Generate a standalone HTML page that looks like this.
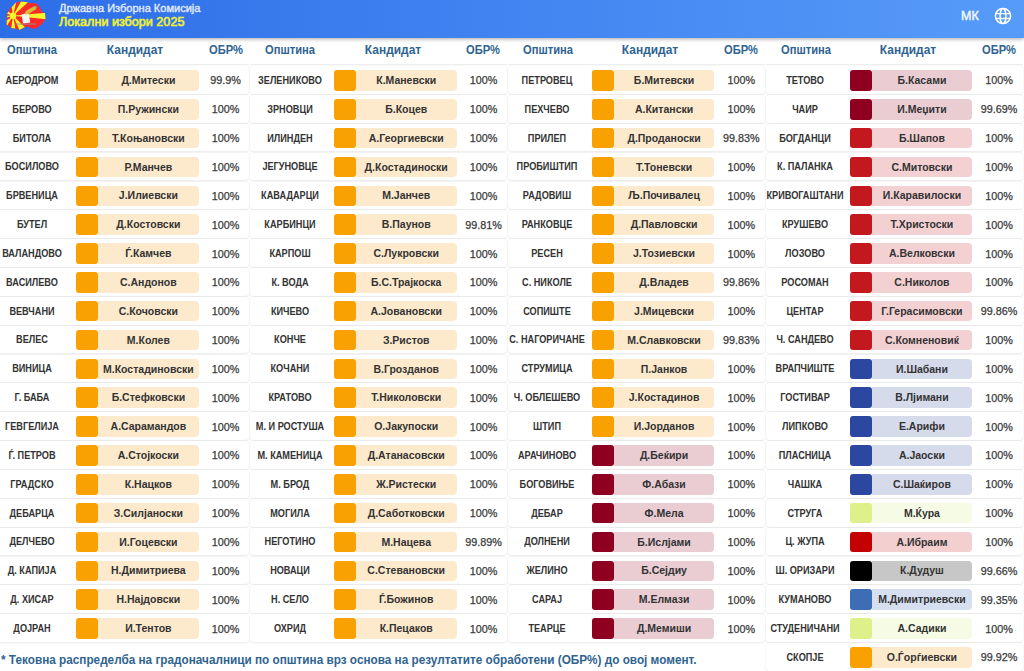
<!DOCTYPE html>
<html><head><meta charset="utf-8"><style>
*{margin:0;padding:0;box-sizing:border-box}
html,body{width:1024px;height:671px;overflow:hidden;background:#fff;font-family:"Liberation Sans",sans-serif;position:relative}
.hdr{position:absolute;left:0;top:0;width:1024px;height:38px;background:linear-gradient(90deg,#2d6de8,#579bf9);box-shadow:0 1px 4px rgba(0,0,0,.35);z-index:5}
.t1{position:absolute;-webkit-text-stroke:0.35px #e2eafb;transform:scaleX(1.06);transform-origin:0 0;left:58.5px;top:3.1px;color:#e2eafb;font-size:10.4px;font-weight:normal;white-space:nowrap}
.t2{position:absolute;-webkit-text-stroke:0.6px #eef032;transform:scaleX(1.05);transform-origin:0 0;left:58.5px;top:14.6px;color:#eef032;font-size:12.0px;font-weight:normal;white-space:nowrap}
.mk{position:absolute;left:961px;top:8.5px;color:#f4f8ff;font-size:12.5px;font-weight:normal;-webkit-text-stroke:0.45px #f4f8ff;transform:scaleX(1.0);transform-origin:0 0}
.th{position:absolute;transform:scaleX(0.93);top:41.5px;height:16px;line-height:16px;color:#2f6491;font-size:12px;font-weight:bold;white-space:nowrap;text-align:center;width:120px;margin-left:-60px}
.hl{position:absolute;top:64px;height:1px;background:#efefef}
.card{position:absolute;background:#fff;border-radius:4px;box-shadow:0 0.8px 2px rgba(0,0,0,.09)}
.mun{position:absolute;transform:scaleX(0.915);height:28px;line-height:28px;width:100px;margin-left:-50px;text-align:center;color:#333;font-size:10px;font-weight:bold;white-space:nowrap;letter-spacing:0px}
.sq{position:absolute;border-radius:3px}
.bar{position:absolute;border-radius:0 4px 4px 0}
.cand{position:absolute;transform:scaleX(1.0);height:28px;line-height:28px;text-align:center;color:#333;font-size:10.5px;font-weight:bold;white-space:nowrap}
.pct{position:absolute;-webkit-text-stroke:0.25px #3a3a3a;transform:scaleX(1.0);height:28px;line-height:28px;width:60px;margin-left:-30px;text-align:center;color:#3a3a3a;font-size:10.8px;white-space:nowrap}
.foot{position:absolute;transform:scaleX(0.98);transform-origin:0 0;left:1.2px;top:652.7px;color:#2f6491;font-size:12px;font-weight:bold;white-space:nowrap}
</style></head><body>

<div class="hdr">
<svg style="position:absolute;left:0;top:0" width="48" height="32" viewBox="0 0 48 32">
<defs><clipPath id="mp"><path d="M10.2,8.1 L8.8,11 L6.9,14.3 L7.3,17 L6.9,20 L6.6,24.8 L8.8,25.7 L10.7,28.1 L15.9,28.6 L19.3,30 L23.1,28.1 L26.9,26.2 L30.7,28.1 L34.5,29.1 L38.3,26.7 L41.7,24.3 L44,21.4 L45.5,19.1 L45,12.9 L42.1,11.9 L40.2,8.1 L37.4,4.3 L33.6,2.9 L29.7,3.3 L26.4,1.9 L19.7,1.4 L15.4,2.9 L12.6,6.2 Z"/></clipPath></defs>
<g clip-path="url(#mp)">
<rect x="0" y="0" width="48" height="32" fill="#fa2a2a"/>
<g fill="#f6f62c">
<path d="M13.06,15.74 L23.34,-28.07 L6.33,-28.75 Z"/>
<path d="M13.06,15.74 L46.50,-14.37 L34.88,-23.62 Z"/>
<path d="M13.06,15.74 L57.81,20.44 L57.89,11.82 Z"/>
<path d="M13.06,15.74 L31.36,56.85 L45.43,47.00 Z"/>
<path d="M13.06,15.74 L6.64,60.28 L21.03,60.03 Z"/>
<path d="M13.06,15.74 L-22.88,42.82 L-10.12,54.31 Z"/>
<path d="M13.06,15.74 L-31.94,15.19 L-30.04,28.67 Z"/>
<path d="M13.06,15.74 L-20.12,-14.66 L-29.61,1.46 Z"/>
</g>
<circle cx="13.06" cy="15.74" r="3.3" fill="#f6f62c"/>
</g>
<path d="M21.6,14.3 L28.8,13.8 L30.2,22.4 L23.1,23.4 Z" fill="#f4f4f6"/>
<path d="M24.3,13.6 L26.5,10.6 L30.5,8.2 L33.8,6.4 L36.4,6.9 L36.2,9.2 L32.3,11.6 L28.6,14 L25.5,14.6 Z" fill="#d9bd35"/>
<path d="M33.2,6.6 L35.6,5.9 L37,7.2 L35,8.9 Z" fill="#9cb868"/>
<rect x="15.4" y="23.6" width="20.6" height="0.9" fill="#9b8b90"/>
</svg>
<div class="t1">Државна Изборна Комисија</div><div class="t2">Локални избори 2025</div>
<div class="mk">МК</div>
<svg style="position:absolute;left:993.5px;top:6.6px" width="18" height="18" viewBox="0 0 18 18" fill="none" stroke="#fff" stroke-width="1.45">
<circle cx="9" cy="9" r="7.6"/><ellipse cx="9" cy="9" rx="2.9" ry="7.6"/><path d="M1.6,6.6 H16.4 M1.6,11.4 H16.4"/></svg>
</div>
<div class="th" style="left:32.05px;transform:scaleX(0.93)">Општина</div>
<div class="th" style="left:134.70px;transform:scaleX(0.995)">Кандидат</div>
<div class="th" style="left:225.60px;transform:scaleX(0.93)">ОБР%</div>
<div class="hl" style="left:-7.50px;width:256.50px"></div>
<div class="card" style="left:-7.50px;top:66.10px;width:256.50px;height:27.70px"></div>
<div class="mun" style="left:31.75px;top:66.80px">АЕРОДРОМ</div>
<div class="bar" style="left:98.00px;top:70.10px;width:100.75px;height:20.60px;background:#fdeacc"></div>
<div class="sq" style="left:76.00px;top:70.10px;width:22.00px;height:20.60px;background:#f9a100"></div>
<div class="cand" style="left:98.00px;top:66.00px;width:100.75px">Д.Митески</div>
<div class="pct" style="left:225.60px;top:66.40px">99.9%</div>
<div class="card" style="left:-7.50px;top:94.95px;width:256.50px;height:27.70px"></div>
<div class="mun" style="left:31.75px;top:95.65px">БЕРОВО</div>
<div class="bar" style="left:98.00px;top:98.95px;width:100.75px;height:20.60px;background:#fdeacc"></div>
<div class="sq" style="left:76.00px;top:98.95px;width:22.00px;height:20.60px;background:#f9a100"></div>
<div class="cand" style="left:98.00px;top:94.85px;width:100.75px">П.Ружински</div>
<div class="pct" style="left:225.60px;top:95.25px">100%</div>
<div class="card" style="left:-7.50px;top:123.80px;width:256.50px;height:27.70px"></div>
<div class="mun" style="left:31.75px;top:124.50px">БИТОЛА</div>
<div class="bar" style="left:98.00px;top:127.80px;width:100.75px;height:20.60px;background:#fdeacc"></div>
<div class="sq" style="left:76.00px;top:127.80px;width:22.00px;height:20.60px;background:#f9a100"></div>
<div class="cand" style="left:98.00px;top:123.70px;width:100.75px">Т.Коњановски</div>
<div class="pct" style="left:225.60px;top:124.10px">100%</div>
<div class="card" style="left:-7.50px;top:152.65px;width:256.50px;height:27.70px"></div>
<div class="mun" style="left:31.75px;top:153.35px">БОСИЛОВО</div>
<div class="bar" style="left:98.00px;top:156.65px;width:100.75px;height:20.60px;background:#fdeacc"></div>
<div class="sq" style="left:76.00px;top:156.65px;width:22.00px;height:20.60px;background:#f9a100"></div>
<div class="cand" style="left:98.00px;top:152.55px;width:100.75px">Р.Манчев</div>
<div class="pct" style="left:225.60px;top:152.95px">100%</div>
<div class="card" style="left:-7.50px;top:181.50px;width:256.50px;height:27.70px"></div>
<div class="mun" style="left:31.75px;top:182.20px">БРВЕНИЦА</div>
<div class="bar" style="left:98.00px;top:185.50px;width:100.75px;height:20.60px;background:#fdeacc"></div>
<div class="sq" style="left:76.00px;top:185.50px;width:22.00px;height:20.60px;background:#f9a100"></div>
<div class="cand" style="left:98.00px;top:181.40px;width:100.75px">Ј.Илиевски</div>
<div class="pct" style="left:225.60px;top:181.80px">100%</div>
<div class="card" style="left:-7.50px;top:210.35px;width:256.50px;height:27.70px"></div>
<div class="mun" style="left:31.75px;top:211.05px">БУТЕЛ</div>
<div class="bar" style="left:98.00px;top:214.35px;width:100.75px;height:20.60px;background:#fdeacc"></div>
<div class="sq" style="left:76.00px;top:214.35px;width:22.00px;height:20.60px;background:#f9a100"></div>
<div class="cand" style="left:98.00px;top:210.25px;width:100.75px">Д.Костовски</div>
<div class="pct" style="left:225.60px;top:210.65px">100%</div>
<div class="card" style="left:-7.50px;top:239.20px;width:256.50px;height:27.70px"></div>
<div class="mun" style="left:31.75px;top:239.90px">ВАЛАНДОВО</div>
<div class="bar" style="left:98.00px;top:243.20px;width:100.75px;height:20.60px;background:#fdeacc"></div>
<div class="sq" style="left:76.00px;top:243.20px;width:22.00px;height:20.60px;background:#f9a100"></div>
<div class="cand" style="left:98.00px;top:239.10px;width:100.75px">Ѓ.Камчев</div>
<div class="pct" style="left:225.60px;top:239.50px">100%</div>
<div class="card" style="left:-7.50px;top:268.05px;width:256.50px;height:27.70px"></div>
<div class="mun" style="left:31.75px;top:268.75px">ВАСИЛЕВО</div>
<div class="bar" style="left:98.00px;top:272.05px;width:100.75px;height:20.60px;background:#fdeacc"></div>
<div class="sq" style="left:76.00px;top:272.05px;width:22.00px;height:20.60px;background:#f9a100"></div>
<div class="cand" style="left:98.00px;top:267.95px;width:100.75px">С.Андонов</div>
<div class="pct" style="left:225.60px;top:268.35px">100%</div>
<div class="card" style="left:-7.50px;top:296.90px;width:256.50px;height:27.70px"></div>
<div class="mun" style="left:31.75px;top:297.60px">ВЕВЧАНИ</div>
<div class="bar" style="left:98.00px;top:300.90px;width:100.75px;height:20.60px;background:#fdeacc"></div>
<div class="sq" style="left:76.00px;top:300.90px;width:22.00px;height:20.60px;background:#f9a100"></div>
<div class="cand" style="left:98.00px;top:296.80px;width:100.75px">С.Кочовски</div>
<div class="pct" style="left:225.60px;top:297.20px">100%</div>
<div class="card" style="left:-7.50px;top:325.75px;width:256.50px;height:27.70px"></div>
<div class="mun" style="left:31.75px;top:326.45px">ВЕЛЕС</div>
<div class="bar" style="left:98.00px;top:329.75px;width:100.75px;height:20.60px;background:#fdeacc"></div>
<div class="sq" style="left:76.00px;top:329.75px;width:22.00px;height:20.60px;background:#f9a100"></div>
<div class="cand" style="left:98.00px;top:325.65px;width:100.75px">М.Колев</div>
<div class="pct" style="left:225.60px;top:326.05px">100%</div>
<div class="card" style="left:-7.50px;top:354.60px;width:256.50px;height:27.70px"></div>
<div class="mun" style="left:31.75px;top:355.30px">ВИНИЦА</div>
<div class="bar" style="left:98.00px;top:358.60px;width:100.75px;height:20.60px;background:#fdeacc"></div>
<div class="sq" style="left:76.00px;top:358.60px;width:22.00px;height:20.60px;background:#f9a100"></div>
<div class="cand" style="left:98.00px;top:354.50px;width:100.75px">М.Костадиновски</div>
<div class="pct" style="left:225.60px;top:354.90px">100%</div>
<div class="card" style="left:-7.50px;top:383.45px;width:256.50px;height:27.70px"></div>
<div class="mun" style="left:31.75px;top:384.15px">Г. БАБА</div>
<div class="bar" style="left:98.00px;top:387.45px;width:100.75px;height:20.60px;background:#fdeacc"></div>
<div class="sq" style="left:76.00px;top:387.45px;width:22.00px;height:20.60px;background:#f9a100"></div>
<div class="cand" style="left:98.00px;top:383.35px;width:100.75px">Б.Стефковски</div>
<div class="pct" style="left:225.60px;top:383.75px">100%</div>
<div class="card" style="left:-7.50px;top:412.30px;width:256.50px;height:27.70px"></div>
<div class="mun" style="left:31.75px;top:413.00px">ГЕВГЕЛИЈА</div>
<div class="bar" style="left:98.00px;top:416.30px;width:100.75px;height:20.60px;background:#fdeacc"></div>
<div class="sq" style="left:76.00px;top:416.30px;width:22.00px;height:20.60px;background:#f9a100"></div>
<div class="cand" style="left:98.00px;top:412.20px;width:100.75px">А.Сарамандов</div>
<div class="pct" style="left:225.60px;top:412.60px">100%</div>
<div class="card" style="left:-7.50px;top:441.15px;width:256.50px;height:27.70px"></div>
<div class="mun" style="left:31.75px;top:441.85px">Ѓ. ПЕТРОВ</div>
<div class="bar" style="left:98.00px;top:445.15px;width:100.75px;height:20.60px;background:#fdeacc"></div>
<div class="sq" style="left:76.00px;top:445.15px;width:22.00px;height:20.60px;background:#f9a100"></div>
<div class="cand" style="left:98.00px;top:441.05px;width:100.75px">А.Стојкоски</div>
<div class="pct" style="left:225.60px;top:441.45px">100%</div>
<div class="card" style="left:-7.50px;top:470.00px;width:256.50px;height:27.70px"></div>
<div class="mun" style="left:31.75px;top:470.70px">ГРАДСКО</div>
<div class="bar" style="left:98.00px;top:474.00px;width:100.75px;height:20.60px;background:#fdeacc"></div>
<div class="sq" style="left:76.00px;top:474.00px;width:22.00px;height:20.60px;background:#f9a100"></div>
<div class="cand" style="left:98.00px;top:469.90px;width:100.75px">К.Нацков</div>
<div class="pct" style="left:225.60px;top:470.30px">100%</div>
<div class="card" style="left:-7.50px;top:498.85px;width:256.50px;height:27.70px"></div>
<div class="mun" style="left:31.75px;top:499.55px">ДЕБАРЦА</div>
<div class="bar" style="left:98.00px;top:502.85px;width:100.75px;height:20.60px;background:#fdeacc"></div>
<div class="sq" style="left:76.00px;top:502.85px;width:22.00px;height:20.60px;background:#f9a100"></div>
<div class="cand" style="left:98.00px;top:498.75px;width:100.75px">З.Силјаноски</div>
<div class="pct" style="left:225.60px;top:499.15px">100%</div>
<div class="card" style="left:-7.50px;top:527.70px;width:256.50px;height:27.70px"></div>
<div class="mun" style="left:31.75px;top:528.40px">ДЕЛЧЕВО</div>
<div class="bar" style="left:98.00px;top:531.70px;width:100.75px;height:20.60px;background:#fdeacc"></div>
<div class="sq" style="left:76.00px;top:531.70px;width:22.00px;height:20.60px;background:#f9a100"></div>
<div class="cand" style="left:98.00px;top:527.60px;width:100.75px">И.Гоцевски</div>
<div class="pct" style="left:225.60px;top:528.00px">100%</div>
<div class="card" style="left:-7.50px;top:556.55px;width:256.50px;height:27.70px"></div>
<div class="mun" style="left:31.75px;top:557.25px">Д. КАПИЈА</div>
<div class="bar" style="left:98.00px;top:560.55px;width:100.75px;height:20.60px;background:#fdeacc"></div>
<div class="sq" style="left:76.00px;top:560.55px;width:22.00px;height:20.60px;background:#f9a100"></div>
<div class="cand" style="left:98.00px;top:556.45px;width:100.75px">Н.Димитриева</div>
<div class="pct" style="left:225.60px;top:556.85px">100%</div>
<div class="card" style="left:-7.50px;top:585.40px;width:256.50px;height:27.70px"></div>
<div class="mun" style="left:31.75px;top:586.10px">Д. ХИСАР</div>
<div class="bar" style="left:98.00px;top:589.40px;width:100.75px;height:20.60px;background:#fdeacc"></div>
<div class="sq" style="left:76.00px;top:589.40px;width:22.00px;height:20.60px;background:#f9a100"></div>
<div class="cand" style="left:98.00px;top:585.30px;width:100.75px">Н.Најдовски</div>
<div class="pct" style="left:225.60px;top:585.70px">100%</div>
<div class="card" style="left:-7.50px;top:614.25px;width:256.50px;height:27.70px"></div>
<div class="mun" style="left:31.75px;top:614.95px">ДОЈРАН</div>
<div class="bar" style="left:98.00px;top:618.25px;width:100.75px;height:20.60px;background:#fdeacc"></div>
<div class="sq" style="left:76.00px;top:618.25px;width:22.00px;height:20.60px;background:#f9a100"></div>
<div class="cand" style="left:98.00px;top:614.15px;width:100.75px">И.Тентов</div>
<div class="pct" style="left:225.60px;top:614.55px">100%</div>
<div class="th" style="left:289.90px;transform:scaleX(0.93)">Општина</div>
<div class="th" style="left:392.55px;transform:scaleX(0.995)">Кандидат</div>
<div class="th" style="left:483.45px;transform:scaleX(0.93)">ОБР%</div>
<div class="hl" style="left:250.35px;width:256.50px"></div>
<div class="card" style="left:250.35px;top:66.10px;width:256.50px;height:27.70px"></div>
<div class="mun" style="left:289.60px;top:66.80px">ЗЕЛЕНИКОВО</div>
<div class="bar" style="left:355.85px;top:70.10px;width:100.75px;height:20.60px;background:#fdeacc"></div>
<div class="sq" style="left:333.85px;top:70.10px;width:22.00px;height:20.60px;background:#f9a100"></div>
<div class="cand" style="left:355.85px;top:66.00px;width:100.75px">К.Маневски</div>
<div class="pct" style="left:483.45px;top:66.40px">100%</div>
<div class="card" style="left:250.35px;top:94.95px;width:256.50px;height:27.70px"></div>
<div class="mun" style="left:289.60px;top:95.65px">ЗРНОВЦИ</div>
<div class="bar" style="left:355.85px;top:98.95px;width:100.75px;height:20.60px;background:#fdeacc"></div>
<div class="sq" style="left:333.85px;top:98.95px;width:22.00px;height:20.60px;background:#f9a100"></div>
<div class="cand" style="left:355.85px;top:94.85px;width:100.75px">Б.Коцев</div>
<div class="pct" style="left:483.45px;top:95.25px">100%</div>
<div class="card" style="left:250.35px;top:123.80px;width:256.50px;height:27.70px"></div>
<div class="mun" style="left:289.60px;top:124.50px">ИЛИНДЕН</div>
<div class="bar" style="left:355.85px;top:127.80px;width:100.75px;height:20.60px;background:#fdeacc"></div>
<div class="sq" style="left:333.85px;top:127.80px;width:22.00px;height:20.60px;background:#f9a100"></div>
<div class="cand" style="left:355.85px;top:123.70px;width:100.75px">А.Георгиевски</div>
<div class="pct" style="left:483.45px;top:124.10px">100%</div>
<div class="card" style="left:250.35px;top:152.65px;width:256.50px;height:27.70px"></div>
<div class="mun" style="left:289.60px;top:153.35px">ЈЕГУНОВЦЕ</div>
<div class="bar" style="left:355.85px;top:156.65px;width:100.75px;height:20.60px;background:#fdeacc"></div>
<div class="sq" style="left:333.85px;top:156.65px;width:22.00px;height:20.60px;background:#f9a100"></div>
<div class="cand" style="left:355.85px;top:152.55px;width:100.75px">Д.Костадиноски</div>
<div class="pct" style="left:483.45px;top:152.95px">100%</div>
<div class="card" style="left:250.35px;top:181.50px;width:256.50px;height:27.70px"></div>
<div class="mun" style="left:289.60px;top:182.20px">КАВАДАРЦИ</div>
<div class="bar" style="left:355.85px;top:185.50px;width:100.75px;height:20.60px;background:#fdeacc"></div>
<div class="sq" style="left:333.85px;top:185.50px;width:22.00px;height:20.60px;background:#f9a100"></div>
<div class="cand" style="left:355.85px;top:181.40px;width:100.75px">М.Јанчев</div>
<div class="pct" style="left:483.45px;top:181.80px">100%</div>
<div class="card" style="left:250.35px;top:210.35px;width:256.50px;height:27.70px"></div>
<div class="mun" style="left:289.60px;top:211.05px">КАРБИНЦИ</div>
<div class="bar" style="left:355.85px;top:214.35px;width:100.75px;height:20.60px;background:#fdeacc"></div>
<div class="sq" style="left:333.85px;top:214.35px;width:22.00px;height:20.60px;background:#f9a100"></div>
<div class="cand" style="left:355.85px;top:210.25px;width:100.75px">В.Паунов</div>
<div class="pct" style="left:483.45px;top:210.65px">99.81%</div>
<div class="card" style="left:250.35px;top:239.20px;width:256.50px;height:27.70px"></div>
<div class="mun" style="left:289.60px;top:239.90px">КАРПОШ</div>
<div class="bar" style="left:355.85px;top:243.20px;width:100.75px;height:20.60px;background:#fdeacc"></div>
<div class="sq" style="left:333.85px;top:243.20px;width:22.00px;height:20.60px;background:#f9a100"></div>
<div class="cand" style="left:355.85px;top:239.10px;width:100.75px">С.Лукровски</div>
<div class="pct" style="left:483.45px;top:239.50px">100%</div>
<div class="card" style="left:250.35px;top:268.05px;width:256.50px;height:27.70px"></div>
<div class="mun" style="left:289.60px;top:268.75px">К. ВОДА</div>
<div class="bar" style="left:355.85px;top:272.05px;width:100.75px;height:20.60px;background:#fdeacc"></div>
<div class="sq" style="left:333.85px;top:272.05px;width:22.00px;height:20.60px;background:#f9a100"></div>
<div class="cand" style="left:355.85px;top:267.95px;width:100.75px">Б.С.Трајкоска</div>
<div class="pct" style="left:483.45px;top:268.35px">100%</div>
<div class="card" style="left:250.35px;top:296.90px;width:256.50px;height:27.70px"></div>
<div class="mun" style="left:289.60px;top:297.60px">КИЧЕВО</div>
<div class="bar" style="left:355.85px;top:300.90px;width:100.75px;height:20.60px;background:#fdeacc"></div>
<div class="sq" style="left:333.85px;top:300.90px;width:22.00px;height:20.60px;background:#f9a100"></div>
<div class="cand" style="left:355.85px;top:296.80px;width:100.75px">А.Јовановски</div>
<div class="pct" style="left:483.45px;top:297.20px">100%</div>
<div class="card" style="left:250.35px;top:325.75px;width:256.50px;height:27.70px"></div>
<div class="mun" style="left:289.60px;top:326.45px">КОНЧЕ</div>
<div class="bar" style="left:355.85px;top:329.75px;width:100.75px;height:20.60px;background:#fdeacc"></div>
<div class="sq" style="left:333.85px;top:329.75px;width:22.00px;height:20.60px;background:#f9a100"></div>
<div class="cand" style="left:355.85px;top:325.65px;width:100.75px">З.Ристов</div>
<div class="pct" style="left:483.45px;top:326.05px">100%</div>
<div class="card" style="left:250.35px;top:354.60px;width:256.50px;height:27.70px"></div>
<div class="mun" style="left:289.60px;top:355.30px">КОЧАНИ</div>
<div class="bar" style="left:355.85px;top:358.60px;width:100.75px;height:20.60px;background:#fdeacc"></div>
<div class="sq" style="left:333.85px;top:358.60px;width:22.00px;height:20.60px;background:#f9a100"></div>
<div class="cand" style="left:355.85px;top:354.50px;width:100.75px">В.Грозданов</div>
<div class="pct" style="left:483.45px;top:354.90px">100%</div>
<div class="card" style="left:250.35px;top:383.45px;width:256.50px;height:27.70px"></div>
<div class="mun" style="left:289.60px;top:384.15px">КРАТОВО</div>
<div class="bar" style="left:355.85px;top:387.45px;width:100.75px;height:20.60px;background:#fdeacc"></div>
<div class="sq" style="left:333.85px;top:387.45px;width:22.00px;height:20.60px;background:#f9a100"></div>
<div class="cand" style="left:355.85px;top:383.35px;width:100.75px">Т.Николовски</div>
<div class="pct" style="left:483.45px;top:383.75px">100%</div>
<div class="card" style="left:250.35px;top:412.30px;width:256.50px;height:27.70px"></div>
<div class="mun" style="left:289.60px;top:413.00px">М. И РОСТУША</div>
<div class="bar" style="left:355.85px;top:416.30px;width:100.75px;height:20.60px;background:#fdeacc"></div>
<div class="sq" style="left:333.85px;top:416.30px;width:22.00px;height:20.60px;background:#f9a100"></div>
<div class="cand" style="left:355.85px;top:412.20px;width:100.75px">О.Јакупоски</div>
<div class="pct" style="left:483.45px;top:412.60px">100%</div>
<div class="card" style="left:250.35px;top:441.15px;width:256.50px;height:27.70px"></div>
<div class="mun" style="left:289.60px;top:441.85px">М. КАМЕНИЦА</div>
<div class="bar" style="left:355.85px;top:445.15px;width:100.75px;height:20.60px;background:#fdeacc"></div>
<div class="sq" style="left:333.85px;top:445.15px;width:22.00px;height:20.60px;background:#f9a100"></div>
<div class="cand" style="left:355.85px;top:441.05px;width:100.75px">Д.Атанасовски</div>
<div class="pct" style="left:483.45px;top:441.45px">100%</div>
<div class="card" style="left:250.35px;top:470.00px;width:256.50px;height:27.70px"></div>
<div class="mun" style="left:289.60px;top:470.70px">М. БРОД</div>
<div class="bar" style="left:355.85px;top:474.00px;width:100.75px;height:20.60px;background:#fdeacc"></div>
<div class="sq" style="left:333.85px;top:474.00px;width:22.00px;height:20.60px;background:#f9a100"></div>
<div class="cand" style="left:355.85px;top:469.90px;width:100.75px">Ж.Ристески</div>
<div class="pct" style="left:483.45px;top:470.30px">100%</div>
<div class="card" style="left:250.35px;top:498.85px;width:256.50px;height:27.70px"></div>
<div class="mun" style="left:289.60px;top:499.55px">МОГИЛА</div>
<div class="bar" style="left:355.85px;top:502.85px;width:100.75px;height:20.60px;background:#fdeacc"></div>
<div class="sq" style="left:333.85px;top:502.85px;width:22.00px;height:20.60px;background:#f9a100"></div>
<div class="cand" style="left:355.85px;top:498.75px;width:100.75px">Д.Саботковски</div>
<div class="pct" style="left:483.45px;top:499.15px">100%</div>
<div class="card" style="left:250.35px;top:527.70px;width:256.50px;height:27.70px"></div>
<div class="mun" style="left:289.60px;top:528.40px">НЕГОТИНО</div>
<div class="bar" style="left:355.85px;top:531.70px;width:100.75px;height:20.60px;background:#fdeacc"></div>
<div class="sq" style="left:333.85px;top:531.70px;width:22.00px;height:20.60px;background:#f9a100"></div>
<div class="cand" style="left:355.85px;top:527.60px;width:100.75px">М.Нацева</div>
<div class="pct" style="left:483.45px;top:528.00px">99.89%</div>
<div class="card" style="left:250.35px;top:556.55px;width:256.50px;height:27.70px"></div>
<div class="mun" style="left:289.60px;top:557.25px">НОВАЦИ</div>
<div class="bar" style="left:355.85px;top:560.55px;width:100.75px;height:20.60px;background:#fdeacc"></div>
<div class="sq" style="left:333.85px;top:560.55px;width:22.00px;height:20.60px;background:#f9a100"></div>
<div class="cand" style="left:355.85px;top:556.45px;width:100.75px">С.Стевановски</div>
<div class="pct" style="left:483.45px;top:556.85px">100%</div>
<div class="card" style="left:250.35px;top:585.40px;width:256.50px;height:27.70px"></div>
<div class="mun" style="left:289.60px;top:586.10px">Н. СЕЛО</div>
<div class="bar" style="left:355.85px;top:589.40px;width:100.75px;height:20.60px;background:#fdeacc"></div>
<div class="sq" style="left:333.85px;top:589.40px;width:22.00px;height:20.60px;background:#f9a100"></div>
<div class="cand" style="left:355.85px;top:585.30px;width:100.75px">Ѓ.Божинов</div>
<div class="pct" style="left:483.45px;top:585.70px">100%</div>
<div class="card" style="left:250.35px;top:614.25px;width:256.50px;height:27.70px"></div>
<div class="mun" style="left:289.60px;top:614.95px">ОХРИД</div>
<div class="bar" style="left:355.85px;top:618.25px;width:100.75px;height:20.60px;background:#fdeacc"></div>
<div class="sq" style="left:333.85px;top:618.25px;width:22.00px;height:20.60px;background:#f9a100"></div>
<div class="cand" style="left:355.85px;top:614.15px;width:100.75px">К.Пецаков</div>
<div class="pct" style="left:483.45px;top:614.55px">100%</div>
<div class="th" style="left:547.75px;transform:scaleX(0.93)">Општина</div>
<div class="th" style="left:650.40px;transform:scaleX(0.995)">Кандидат</div>
<div class="th" style="left:741.30px;transform:scaleX(0.93)">ОБР%</div>
<div class="hl" style="left:508.20px;width:256.50px"></div>
<div class="card" style="left:508.20px;top:66.10px;width:256.50px;height:27.70px"></div>
<div class="mun" style="left:547.45px;top:66.80px">ПЕТРОВЕЦ</div>
<div class="bar" style="left:613.70px;top:70.10px;width:100.75px;height:20.60px;background:#fdeacc"></div>
<div class="sq" style="left:591.70px;top:70.10px;width:22.00px;height:20.60px;background:#f9a100"></div>
<div class="cand" style="left:613.70px;top:66.00px;width:100.75px">Б.Митевски</div>
<div class="pct" style="left:741.30px;top:66.40px">100%</div>
<div class="card" style="left:508.20px;top:94.95px;width:256.50px;height:27.70px"></div>
<div class="mun" style="left:547.45px;top:95.65px">ПЕХЧЕВО</div>
<div class="bar" style="left:613.70px;top:98.95px;width:100.75px;height:20.60px;background:#fdeacc"></div>
<div class="sq" style="left:591.70px;top:98.95px;width:22.00px;height:20.60px;background:#f9a100"></div>
<div class="cand" style="left:613.70px;top:94.85px;width:100.75px">А.Китански</div>
<div class="pct" style="left:741.30px;top:95.25px">100%</div>
<div class="card" style="left:508.20px;top:123.80px;width:256.50px;height:27.70px"></div>
<div class="mun" style="left:547.45px;top:124.50px">ПРИЛЕП</div>
<div class="bar" style="left:613.70px;top:127.80px;width:100.75px;height:20.60px;background:#fdeacc"></div>
<div class="sq" style="left:591.70px;top:127.80px;width:22.00px;height:20.60px;background:#f9a100"></div>
<div class="cand" style="left:613.70px;top:123.70px;width:100.75px">Д.Проданоски</div>
<div class="pct" style="left:741.30px;top:124.10px">99.83%</div>
<div class="card" style="left:508.20px;top:152.65px;width:256.50px;height:27.70px"></div>
<div class="mun" style="left:547.45px;top:153.35px">ПРОБИШТИП</div>
<div class="bar" style="left:613.70px;top:156.65px;width:100.75px;height:20.60px;background:#fdeacc"></div>
<div class="sq" style="left:591.70px;top:156.65px;width:22.00px;height:20.60px;background:#f9a100"></div>
<div class="cand" style="left:613.70px;top:152.55px;width:100.75px">Т.Тоневски</div>
<div class="pct" style="left:741.30px;top:152.95px">100%</div>
<div class="card" style="left:508.20px;top:181.50px;width:256.50px;height:27.70px"></div>
<div class="mun" style="left:547.45px;top:182.20px">РАДОВИШ</div>
<div class="bar" style="left:613.70px;top:185.50px;width:100.75px;height:20.60px;background:#fdeacc"></div>
<div class="sq" style="left:591.70px;top:185.50px;width:22.00px;height:20.60px;background:#f9a100"></div>
<div class="cand" style="left:613.70px;top:181.40px;width:100.75px">Љ.Почивалец</div>
<div class="pct" style="left:741.30px;top:181.80px">100%</div>
<div class="card" style="left:508.20px;top:210.35px;width:256.50px;height:27.70px"></div>
<div class="mun" style="left:547.45px;top:211.05px">РАНКОВЦЕ</div>
<div class="bar" style="left:613.70px;top:214.35px;width:100.75px;height:20.60px;background:#fdeacc"></div>
<div class="sq" style="left:591.70px;top:214.35px;width:22.00px;height:20.60px;background:#f9a100"></div>
<div class="cand" style="left:613.70px;top:210.25px;width:100.75px">Д.Павловски</div>
<div class="pct" style="left:741.30px;top:210.65px">100%</div>
<div class="card" style="left:508.20px;top:239.20px;width:256.50px;height:27.70px"></div>
<div class="mun" style="left:547.45px;top:239.90px">РЕСЕН</div>
<div class="bar" style="left:613.70px;top:243.20px;width:100.75px;height:20.60px;background:#fdeacc"></div>
<div class="sq" style="left:591.70px;top:243.20px;width:22.00px;height:20.60px;background:#f9a100"></div>
<div class="cand" style="left:613.70px;top:239.10px;width:100.75px">Ј.Тозиевски</div>
<div class="pct" style="left:741.30px;top:239.50px">100%</div>
<div class="card" style="left:508.20px;top:268.05px;width:256.50px;height:27.70px"></div>
<div class="mun" style="left:547.45px;top:268.75px">С. НИКОЛЕ</div>
<div class="bar" style="left:613.70px;top:272.05px;width:100.75px;height:20.60px;background:#fdeacc"></div>
<div class="sq" style="left:591.70px;top:272.05px;width:22.00px;height:20.60px;background:#f9a100"></div>
<div class="cand" style="left:613.70px;top:267.95px;width:100.75px">Д.Владев</div>
<div class="pct" style="left:741.30px;top:268.35px">99.86%</div>
<div class="card" style="left:508.20px;top:296.90px;width:256.50px;height:27.70px"></div>
<div class="mun" style="left:547.45px;top:297.60px">СОПИШТЕ</div>
<div class="bar" style="left:613.70px;top:300.90px;width:100.75px;height:20.60px;background:#fdeacc"></div>
<div class="sq" style="left:591.70px;top:300.90px;width:22.00px;height:20.60px;background:#f9a100"></div>
<div class="cand" style="left:613.70px;top:296.80px;width:100.75px">Ј.Мицевски</div>
<div class="pct" style="left:741.30px;top:297.20px">100%</div>
<div class="card" style="left:508.20px;top:325.75px;width:256.50px;height:27.70px"></div>
<div class="mun" style="left:547.45px;top:326.45px">С. НАГОРИЧАНЕ</div>
<div class="bar" style="left:613.70px;top:329.75px;width:100.75px;height:20.60px;background:#fdeacc"></div>
<div class="sq" style="left:591.70px;top:329.75px;width:22.00px;height:20.60px;background:#f9a100"></div>
<div class="cand" style="left:613.70px;top:325.65px;width:100.75px">М.Славковски</div>
<div class="pct" style="left:741.30px;top:326.05px">99.83%</div>
<div class="card" style="left:508.20px;top:354.60px;width:256.50px;height:27.70px"></div>
<div class="mun" style="left:547.45px;top:355.30px">СТРУМИЦА</div>
<div class="bar" style="left:613.70px;top:358.60px;width:100.75px;height:20.60px;background:#fdeacc"></div>
<div class="sq" style="left:591.70px;top:358.60px;width:22.00px;height:20.60px;background:#f9a100"></div>
<div class="cand" style="left:613.70px;top:354.50px;width:100.75px">П.Јанков</div>
<div class="pct" style="left:741.30px;top:354.90px">100%</div>
<div class="card" style="left:508.20px;top:383.45px;width:256.50px;height:27.70px"></div>
<div class="mun" style="left:547.45px;top:384.15px">Ч. ОБЛЕШЕВО</div>
<div class="bar" style="left:613.70px;top:387.45px;width:100.75px;height:20.60px;background:#fdeacc"></div>
<div class="sq" style="left:591.70px;top:387.45px;width:22.00px;height:20.60px;background:#f9a100"></div>
<div class="cand" style="left:613.70px;top:383.35px;width:100.75px">Ј.Костадинов</div>
<div class="pct" style="left:741.30px;top:383.75px">100%</div>
<div class="card" style="left:508.20px;top:412.30px;width:256.50px;height:27.70px"></div>
<div class="mun" style="left:547.45px;top:413.00px">ШТИП</div>
<div class="bar" style="left:613.70px;top:416.30px;width:100.75px;height:20.60px;background:#fdeacc"></div>
<div class="sq" style="left:591.70px;top:416.30px;width:22.00px;height:20.60px;background:#f9a100"></div>
<div class="cand" style="left:613.70px;top:412.20px;width:100.75px">И.Јорданов</div>
<div class="pct" style="left:741.30px;top:412.60px">100%</div>
<div class="card" style="left:508.20px;top:441.15px;width:256.50px;height:27.70px"></div>
<div class="mun" style="left:547.45px;top:441.85px">АРАЧИНОВО</div>
<div class="bar" style="left:613.70px;top:445.15px;width:100.75px;height:20.60px;background:#e9cdd3"></div>
<div class="sq" style="left:591.70px;top:445.15px;width:22.00px;height:20.60px;background:#8f0020"></div>
<div class="cand" style="left:613.70px;top:441.05px;width:100.75px">Д.Беќири</div>
<div class="pct" style="left:741.30px;top:441.45px">100%</div>
<div class="card" style="left:508.20px;top:470.00px;width:256.50px;height:27.70px"></div>
<div class="mun" style="left:547.45px;top:470.70px">БОГОВИЊЕ</div>
<div class="bar" style="left:613.70px;top:474.00px;width:100.75px;height:20.60px;background:#e9cdd3"></div>
<div class="sq" style="left:591.70px;top:474.00px;width:22.00px;height:20.60px;background:#8f0020"></div>
<div class="cand" style="left:613.70px;top:469.90px;width:100.75px">Ф.Абази</div>
<div class="pct" style="left:741.30px;top:470.30px">100%</div>
<div class="card" style="left:508.20px;top:498.85px;width:256.50px;height:27.70px"></div>
<div class="mun" style="left:547.45px;top:499.55px">ДЕБАР</div>
<div class="bar" style="left:613.70px;top:502.85px;width:100.75px;height:20.60px;background:#e9cdd3"></div>
<div class="sq" style="left:591.70px;top:502.85px;width:22.00px;height:20.60px;background:#8f0020"></div>
<div class="cand" style="left:613.70px;top:498.75px;width:100.75px">Ф.Мела</div>
<div class="pct" style="left:741.30px;top:499.15px">100%</div>
<div class="card" style="left:508.20px;top:527.70px;width:256.50px;height:27.70px"></div>
<div class="mun" style="left:547.45px;top:528.40px">ДОЛНЕНИ</div>
<div class="bar" style="left:613.70px;top:531.70px;width:100.75px;height:20.60px;background:#e9cdd3"></div>
<div class="sq" style="left:591.70px;top:531.70px;width:22.00px;height:20.60px;background:#8f0020"></div>
<div class="cand" style="left:613.70px;top:527.60px;width:100.75px">Б.Ислјами</div>
<div class="pct" style="left:741.30px;top:528.00px">100%</div>
<div class="card" style="left:508.20px;top:556.55px;width:256.50px;height:27.70px"></div>
<div class="mun" style="left:547.45px;top:557.25px">ЖЕЛИНО</div>
<div class="bar" style="left:613.70px;top:560.55px;width:100.75px;height:20.60px;background:#e9cdd3"></div>
<div class="sq" style="left:591.70px;top:560.55px;width:22.00px;height:20.60px;background:#8f0020"></div>
<div class="cand" style="left:613.70px;top:556.45px;width:100.75px">Б.Сејдиу</div>
<div class="pct" style="left:741.30px;top:556.85px">100%</div>
<div class="card" style="left:508.20px;top:585.40px;width:256.50px;height:27.70px"></div>
<div class="mun" style="left:547.45px;top:586.10px">САРАЈ</div>
<div class="bar" style="left:613.70px;top:589.40px;width:100.75px;height:20.60px;background:#e9cdd3"></div>
<div class="sq" style="left:591.70px;top:589.40px;width:22.00px;height:20.60px;background:#8f0020"></div>
<div class="cand" style="left:613.70px;top:585.30px;width:100.75px">М.Елмази</div>
<div class="pct" style="left:741.30px;top:585.70px">100%</div>
<div class="card" style="left:508.20px;top:614.25px;width:256.50px;height:27.70px"></div>
<div class="mun" style="left:547.45px;top:614.95px">ТЕАРЦЕ</div>
<div class="bar" style="left:613.70px;top:618.25px;width:100.75px;height:20.60px;background:#e9cdd3"></div>
<div class="sq" style="left:591.70px;top:618.25px;width:22.00px;height:20.60px;background:#8f0020"></div>
<div class="cand" style="left:613.70px;top:614.15px;width:100.75px">Д.Мемиши</div>
<div class="pct" style="left:741.30px;top:614.55px">100%</div>
<div class="th" style="left:805.60px;transform:scaleX(0.93)">Општина</div>
<div class="th" style="left:908.25px;transform:scaleX(0.995)">Кандидат</div>
<div class="th" style="left:999.15px;transform:scaleX(0.93)">ОБР%</div>
<div class="hl" style="left:766.05px;width:256.50px"></div>
<div class="card" style="left:766.05px;top:66.10px;width:256.50px;height:27.70px"></div>
<div class="mun" style="left:805.30px;top:66.80px">ТЕТОВО</div>
<div class="bar" style="left:871.55px;top:70.10px;width:100.75px;height:20.60px;background:#e9cdd3"></div>
<div class="sq" style="left:849.55px;top:70.10px;width:22.00px;height:20.60px;background:#8f0020"></div>
<div class="cand" style="left:871.55px;top:66.00px;width:100.75px">Б.Касами</div>
<div class="pct" style="left:999.15px;top:66.40px">100%</div>
<div class="card" style="left:766.05px;top:94.95px;width:256.50px;height:27.70px"></div>
<div class="mun" style="left:805.30px;top:95.65px">ЧАИР</div>
<div class="bar" style="left:871.55px;top:98.95px;width:100.75px;height:20.60px;background:#e9cdd3"></div>
<div class="sq" style="left:849.55px;top:98.95px;width:22.00px;height:20.60px;background:#8f0020"></div>
<div class="cand" style="left:871.55px;top:94.85px;width:100.75px">И.Меџити</div>
<div class="pct" style="left:999.15px;top:95.25px">99.69%</div>
<div class="card" style="left:766.05px;top:123.80px;width:256.50px;height:27.70px"></div>
<div class="mun" style="left:805.30px;top:124.50px">БОГДАНЦИ</div>
<div class="bar" style="left:871.55px;top:127.80px;width:100.75px;height:20.60px;background:#f3d1d3"></div>
<div class="sq" style="left:849.55px;top:127.80px;width:22.00px;height:20.60px;background:#c3191e"></div>
<div class="cand" style="left:871.55px;top:123.70px;width:100.75px">Б.Шапов</div>
<div class="pct" style="left:999.15px;top:124.10px">100%</div>
<div class="card" style="left:766.05px;top:152.65px;width:256.50px;height:27.70px"></div>
<div class="mun" style="left:805.30px;top:153.35px">К. ПАЛАНКА</div>
<div class="bar" style="left:871.55px;top:156.65px;width:100.75px;height:20.60px;background:#f3d1d3"></div>
<div class="sq" style="left:849.55px;top:156.65px;width:22.00px;height:20.60px;background:#c3191e"></div>
<div class="cand" style="left:871.55px;top:152.55px;width:100.75px">С.Митовски</div>
<div class="pct" style="left:999.15px;top:152.95px">100%</div>
<div class="card" style="left:766.05px;top:181.50px;width:256.50px;height:27.70px"></div>
<div class="mun" style="left:805.30px;top:182.20px">КРИВОГАШТАНИ</div>
<div class="bar" style="left:871.55px;top:185.50px;width:100.75px;height:20.60px;background:#f3d1d3"></div>
<div class="sq" style="left:849.55px;top:185.50px;width:22.00px;height:20.60px;background:#c3191e"></div>
<div class="cand" style="left:871.55px;top:181.40px;width:100.75px">И.Каравилоски</div>
<div class="pct" style="left:999.15px;top:181.80px">100%</div>
<div class="card" style="left:766.05px;top:210.35px;width:256.50px;height:27.70px"></div>
<div class="mun" style="left:805.30px;top:211.05px">КРУШЕВО</div>
<div class="bar" style="left:871.55px;top:214.35px;width:100.75px;height:20.60px;background:#f3d1d3"></div>
<div class="sq" style="left:849.55px;top:214.35px;width:22.00px;height:20.60px;background:#c3191e"></div>
<div class="cand" style="left:871.55px;top:210.25px;width:100.75px">Т.Христоски</div>
<div class="pct" style="left:999.15px;top:210.65px">100%</div>
<div class="card" style="left:766.05px;top:239.20px;width:256.50px;height:27.70px"></div>
<div class="mun" style="left:805.30px;top:239.90px">ЛОЗОВО</div>
<div class="bar" style="left:871.55px;top:243.20px;width:100.75px;height:20.60px;background:#f3d1d3"></div>
<div class="sq" style="left:849.55px;top:243.20px;width:22.00px;height:20.60px;background:#c3191e"></div>
<div class="cand" style="left:871.55px;top:239.10px;width:100.75px">А.Велковски</div>
<div class="pct" style="left:999.15px;top:239.50px">100%</div>
<div class="card" style="left:766.05px;top:268.05px;width:256.50px;height:27.70px"></div>
<div class="mun" style="left:805.30px;top:268.75px">РОСОМАН</div>
<div class="bar" style="left:871.55px;top:272.05px;width:100.75px;height:20.60px;background:#f3d1d3"></div>
<div class="sq" style="left:849.55px;top:272.05px;width:22.00px;height:20.60px;background:#c3191e"></div>
<div class="cand" style="left:871.55px;top:267.95px;width:100.75px">С.Николов</div>
<div class="pct" style="left:999.15px;top:268.35px">100%</div>
<div class="card" style="left:766.05px;top:296.90px;width:256.50px;height:27.70px"></div>
<div class="mun" style="left:805.30px;top:297.60px">ЦЕНТАР</div>
<div class="bar" style="left:871.55px;top:300.90px;width:100.75px;height:20.60px;background:#f3d1d3"></div>
<div class="sq" style="left:849.55px;top:300.90px;width:22.00px;height:20.60px;background:#c3191e"></div>
<div class="cand" style="left:871.55px;top:296.80px;width:100.75px">Г.Герасимовски</div>
<div class="pct" style="left:999.15px;top:297.20px">99.86%</div>
<div class="card" style="left:766.05px;top:325.75px;width:256.50px;height:27.70px"></div>
<div class="mun" style="left:805.30px;top:326.45px">Ч. САНДЕВО</div>
<div class="bar" style="left:871.55px;top:329.75px;width:100.75px;height:20.60px;background:#f3d1d3"></div>
<div class="sq" style="left:849.55px;top:329.75px;width:22.00px;height:20.60px;background:#c3191e"></div>
<div class="cand" style="left:871.55px;top:325.65px;width:100.75px">С.Комненовиќ</div>
<div class="pct" style="left:999.15px;top:326.05px">100%</div>
<div class="card" style="left:766.05px;top:354.60px;width:256.50px;height:27.70px"></div>
<div class="mun" style="left:805.30px;top:355.30px">ВРАПЧИШТЕ</div>
<div class="bar" style="left:871.55px;top:358.60px;width:100.75px;height:20.60px;background:#d6dbec"></div>
<div class="sq" style="left:849.55px;top:358.60px;width:22.00px;height:20.60px;background:#2b479f"></div>
<div class="cand" style="left:871.55px;top:354.50px;width:100.75px">И.Шабани</div>
<div class="pct" style="left:999.15px;top:354.90px">100%</div>
<div class="card" style="left:766.05px;top:383.45px;width:256.50px;height:27.70px"></div>
<div class="mun" style="left:805.30px;top:384.15px">ГОСТИВАР</div>
<div class="bar" style="left:871.55px;top:387.45px;width:100.75px;height:20.60px;background:#d6dbec"></div>
<div class="sq" style="left:849.55px;top:387.45px;width:22.00px;height:20.60px;background:#2b479f"></div>
<div class="cand" style="left:871.55px;top:383.35px;width:100.75px">В.Лјимани</div>
<div class="pct" style="left:999.15px;top:383.75px">100%</div>
<div class="card" style="left:766.05px;top:412.30px;width:256.50px;height:27.70px"></div>
<div class="mun" style="left:805.30px;top:413.00px">ЛИПКОВО</div>
<div class="bar" style="left:871.55px;top:416.30px;width:100.75px;height:20.60px;background:#d6dbec"></div>
<div class="sq" style="left:849.55px;top:416.30px;width:22.00px;height:20.60px;background:#2b479f"></div>
<div class="cand" style="left:871.55px;top:412.20px;width:100.75px">Е.Арифи</div>
<div class="pct" style="left:999.15px;top:412.60px">100%</div>
<div class="card" style="left:766.05px;top:441.15px;width:256.50px;height:27.70px"></div>
<div class="mun" style="left:805.30px;top:441.85px">ПЛАСНИЦА</div>
<div class="bar" style="left:871.55px;top:445.15px;width:100.75px;height:20.60px;background:#d6dbec"></div>
<div class="sq" style="left:849.55px;top:445.15px;width:22.00px;height:20.60px;background:#2b479f"></div>
<div class="cand" style="left:871.55px;top:441.05px;width:100.75px">А.Јаоски</div>
<div class="pct" style="left:999.15px;top:441.45px">100%</div>
<div class="card" style="left:766.05px;top:470.00px;width:256.50px;height:27.70px"></div>
<div class="mun" style="left:805.30px;top:470.70px">ЧАШКА</div>
<div class="bar" style="left:871.55px;top:474.00px;width:100.75px;height:20.60px;background:#d6dbec"></div>
<div class="sq" style="left:849.55px;top:474.00px;width:22.00px;height:20.60px;background:#2b479f"></div>
<div class="cand" style="left:871.55px;top:469.90px;width:100.75px">С.Шаќиров</div>
<div class="pct" style="left:999.15px;top:470.30px">100%</div>
<div class="card" style="left:766.05px;top:498.85px;width:256.50px;height:27.70px"></div>
<div class="mun" style="left:805.30px;top:499.55px">СТРУГА</div>
<div class="bar" style="left:871.55px;top:502.85px;width:100.75px;height:20.60px;background:#f6fbe6"></div>
<div class="sq" style="left:849.55px;top:502.85px;width:22.00px;height:20.60px;background:#ddf08a"></div>
<div class="cand" style="left:871.55px;top:498.75px;width:100.75px">М.Ќура</div>
<div class="pct" style="left:999.15px;top:499.15px">100%</div>
<div class="card" style="left:766.05px;top:527.70px;width:256.50px;height:27.70px"></div>
<div class="mun" style="left:805.30px;top:528.40px">Ц. ЖУПА</div>
<div class="bar" style="left:871.55px;top:531.70px;width:100.75px;height:20.60px;background:#f3cfd0"></div>
<div class="sq" style="left:849.55px;top:531.70px;width:22.00px;height:20.60px;background:#c40000"></div>
<div class="cand" style="left:871.55px;top:527.60px;width:100.75px">А.Ибраим</div>
<div class="pct" style="left:999.15px;top:528.00px">100%</div>
<div class="card" style="left:766.05px;top:556.55px;width:256.50px;height:27.70px"></div>
<div class="mun" style="left:805.30px;top:557.25px">Ш. ОРИЗАРИ</div>
<div class="bar" style="left:871.55px;top:560.55px;width:100.75px;height:20.60px;background:#c7c7c7"></div>
<div class="sq" style="left:849.55px;top:560.55px;width:22.00px;height:20.60px;background:#000000"></div>
<div class="cand" style="left:871.55px;top:556.45px;width:100.75px">К.Дудуш</div>
<div class="pct" style="left:999.15px;top:556.85px">99.66%</div>
<div class="card" style="left:766.05px;top:585.40px;width:256.50px;height:27.70px"></div>
<div class="mun" style="left:805.30px;top:586.10px">КУМАНОВО</div>
<div class="bar" style="left:871.55px;top:589.40px;width:100.75px;height:20.60px;background:#d6dff0"></div>
<div class="sq" style="left:849.55px;top:589.40px;width:22.00px;height:20.60px;background:#3c6db5"></div>
<div class="cand" style="left:871.55px;top:585.30px;width:100.75px">М.Димитриевски</div>
<div class="pct" style="left:999.15px;top:585.70px">99.35%</div>
<div class="card" style="left:766.05px;top:614.25px;width:256.50px;height:27.70px"></div>
<div class="mun" style="left:805.30px;top:614.95px">СТУДЕНИЧАНИ</div>
<div class="bar" style="left:871.55px;top:618.25px;width:100.75px;height:20.60px;background:#f6fbe6"></div>
<div class="sq" style="left:849.55px;top:618.25px;width:22.00px;height:20.60px;background:#ddf08a"></div>
<div class="cand" style="left:871.55px;top:614.15px;width:100.75px">А.Садики</div>
<div class="pct" style="left:999.15px;top:614.55px">100%</div>
<div class="card" style="left:766.05px;top:643.10px;width:256.50px;height:27.70px"></div>
<div class="mun" style="left:805.30px;top:643.80px">СКОПЈЕ</div>
<div class="bar" style="left:871.55px;top:647.10px;width:100.75px;height:20.60px;background:#fdeacc"></div>
<div class="sq" style="left:849.55px;top:647.10px;width:22.00px;height:20.60px;background:#f9a100"></div>
<div class="cand" style="left:871.55px;top:643.00px;width:100.75px">О.Ѓорѓиевски</div>
<div class="pct" style="left:999.15px;top:643.40px">99.92%</div>
<div class="foot">* Тековна распределба на градоначалници по општина врз основа на резултатите обработени (ОБР%) до овој момент.</div>
</body></html>
